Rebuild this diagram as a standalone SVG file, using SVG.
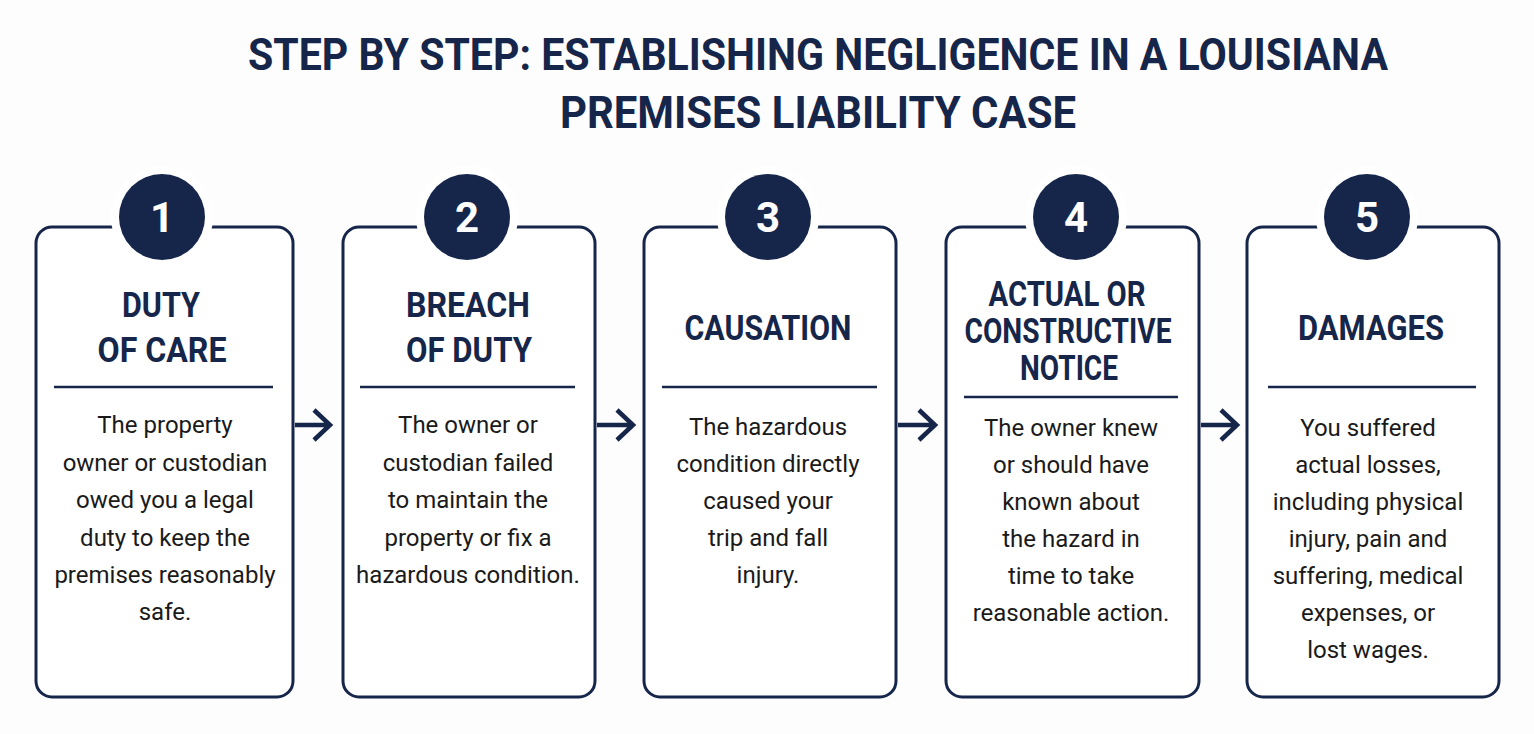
<svg xmlns="http://www.w3.org/2000/svg" width="1534" height="734" viewBox="0 0 1534 734">
<style>
.box{fill:#fff;stroke:#16264a;stroke-width:3}
.gap{fill:#fff}
.num{fill:#16264a}
.nt{fill:#fff;font-family:Roboto,"Liberation Sans",sans-serif;font-weight:bold;font-size:42px;text-anchor:middle}
.h{fill:#16264a;font-family:Roboto,"Liberation Sans",sans-serif;font-weight:bold;font-size:35px;text-anchor:middle}
.b{fill:#1a1a1a;font-family:Roboto,"Liberation Sans",sans-serif;font-size:24px;text-anchor:middle}
.t{fill:#16264a;font-family:Roboto,"Liberation Sans",sans-serif;font-weight:bold;font-size:44px;text-anchor:middle}
.div{stroke:#16264a;stroke-width:2.5}
.arr{fill:none;stroke:#16264a;stroke-width:4.5}
</style>
<rect width="1534" height="734" fill="#fdfdfd"/>
<g id="title">
<text class="t" x="818" y="70" textLength="1140" lengthAdjust="spacingAndGlyphs">STEP BY STEP: ESTABLISHING NEGLIGENCE IN A LOUISIANA</text>
<text class="t" x="818" y="128" textLength="516" lengthAdjust="spacingAndGlyphs">PREMISES LIABILITY CASE</text>
</g>
<g id="connectors">
<path class="arr" d="M295 425H329M314 410L330 425L314 440"/>
<path class="arr" d="M597 425H632M617 410L633 425L617 440"/>
<path class="arr" d="M898 425H934M919 410L935 425L919 440"/>
<path class="arr" d="M1201 425H1236M1221 410L1237 425L1221 440"/>
</g>
<g id="step1">
<rect class="box" x="36" y="227" width="257" height="470" rx="16"/>
<circle class="gap" cx="162" cy="217" r="51"/><circle class="num" cx="162" cy="217" r="43"/>
<text class="nt" x="162" y="232">1</text>
<text class="h" x="161" y="317" textLength="78" lengthAdjust="spacingAndGlyphs">DUTY</text><text class="h" x="162" y="362" textLength="129" lengthAdjust="spacingAndGlyphs">OF CARE</text>
<line class="div" x1="54" y1="387" x2="273" y2="387"/>
<text class="b" x="165" y="433">The property</text><text class="b" x="165" y="471">owner or custodian</text><text class="b" x="165" y="508">owed you a legal</text><text class="b" x="165" y="546">duty to keep the</text><text class="b" x="165" y="583">premises reasonably</text><text class="b" x="165" y="620">safe.</text>
</g>
<g id="step2">
<rect class="box" x="343" y="227" width="252" height="470" rx="16"/>
<circle class="gap" cx="467" cy="217" r="51"/><circle class="num" cx="467" cy="217" r="43"/>
<text class="nt" x="467" y="232">2</text>
<text class="h" x="468" y="317" textLength="124" lengthAdjust="spacingAndGlyphs">BREACH</text><text class="h" x="469" y="362" textLength="126" lengthAdjust="spacingAndGlyphs">OF DUTY</text>
<line class="div" x1="360" y1="387" x2="575" y2="387"/>
<text class="b" x="468" y="433">The owner or</text><text class="b" x="468" y="471">custodian failed</text><text class="b" x="468" y="508">to maintain the</text><text class="b" x="468" y="546">property or fix a</text><text class="b" x="468" y="583">hazardous condition.</text>
</g>
<g id="step3">
<rect class="box" x="644" y="227" width="252" height="470" rx="16"/>
<circle class="gap" cx="768" cy="217" r="51"/><circle class="num" cx="768" cy="217" r="43"/>
<text class="nt" x="768" y="232">3</text>
<text class="h" x="768" y="340" textLength="167" lengthAdjust="spacingAndGlyphs">CAUSATION</text>
<line class="div" x1="662" y1="387" x2="877" y2="387"/>
<text class="b" x="768" y="435">The hazardous</text><text class="b" x="768" y="472">condition directly</text><text class="b" x="768" y="509">caused your</text><text class="b" x="768" y="546">trip and fall</text><text class="b" x="768" y="583">injury.</text>
</g>
<g id="step4">
<rect class="box" x="946" y="227" width="253" height="470" rx="16"/>
<circle class="gap" cx="1076" cy="217" r="51"/><circle class="num" cx="1076" cy="217" r="43"/>
<text class="nt" x="1076" y="232">4</text>
<text class="h" x="1067" y="306" textLength="157" lengthAdjust="spacingAndGlyphs">ACTUAL OR</text><text class="h" x="1068" y="343" textLength="207" lengthAdjust="spacingAndGlyphs">CONSTRUCTIVE</text><text class="h" x="1069" y="380" textLength="98" lengthAdjust="spacingAndGlyphs">NOTICE</text>
<line class="div" x1="964" y1="397" x2="1178" y2="397"/>
<text class="b" x="1071" y="436">The owner knew</text><text class="b" x="1071" y="473">or should have</text><text class="b" x="1071" y="510">known about</text><text class="b" x="1071" y="547">the hazard in</text><text class="b" x="1071" y="584">time to take</text><text class="b" x="1071" y="621">reasonable action.</text>
</g>
<g id="step5">
<rect class="box" x="1247" y="227" width="252" height="470" rx="16"/>
<circle class="gap" cx="1367" cy="217" r="51"/><circle class="num" cx="1367" cy="217" r="43"/>
<text class="nt" x="1367" y="232">5</text>
<text class="h" x="1371" y="340" textLength="146" lengthAdjust="spacingAndGlyphs">DAMAGES</text>
<line class="div" x1="1268" y1="387" x2="1476" y2="387"/>
<text class="b" x="1368" y="436">You suffered</text><text class="b" x="1368" y="473">actual losses,</text><text class="b" x="1368" y="510">including physical</text><text class="b" x="1368" y="547">injury, pain and</text><text class="b" x="1368" y="584">suffering, medical</text><text class="b" x="1368" y="621">expenses, or</text><text class="b" x="1368" y="658">lost wages.</text>
</g>
</svg>
